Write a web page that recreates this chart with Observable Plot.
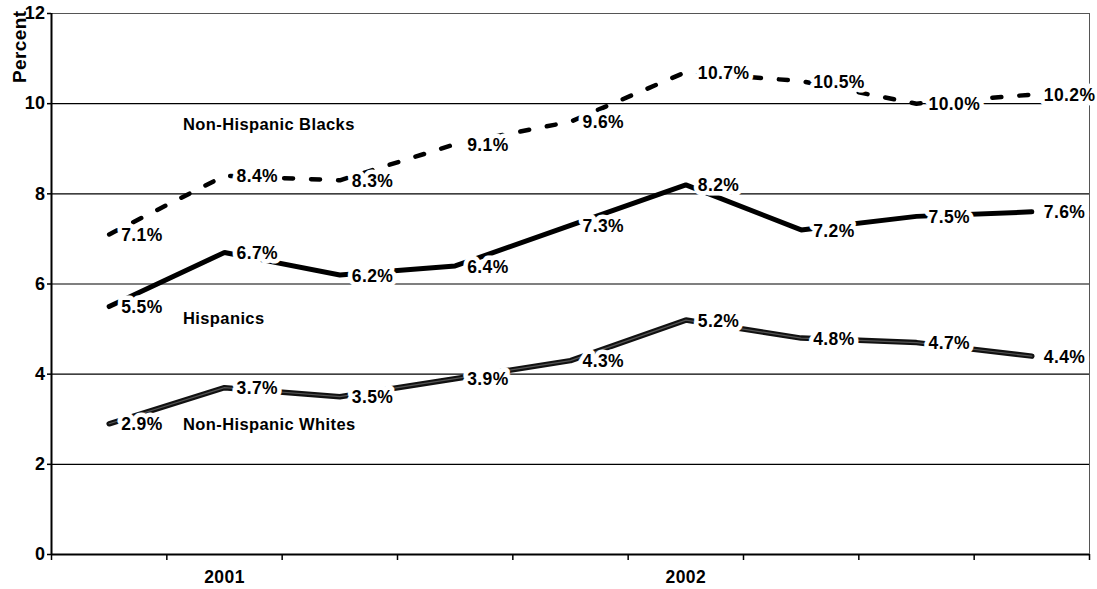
<!DOCTYPE html>
<html><head><meta charset="utf-8">
<script src="https://cdn.jsdelivr.net/npm/d3@7"></script>
<script src="https://cdn.jsdelivr.net/npm/@observablehq/plot@0.6"></script>
<style>body{margin:0;background:#fff} svg{display:block}</style>
</head><body><div id="chart"></div>
<script>
// survey periods (9 consecutive waves)
const periods = [1, 2, 3, 4, 5, 6, 7, 8, 9];
const blacks = [7.1, 8.4, 8.3, 9.1, 9.6, 10.7, 10.5, 10.0, 10.2];
const hispanics = [5.5, 6.7, 6.2, 6.4, 7.3, 8.2, 7.2, 7.5, 7.6];
const whites = [2.9, 3.7, 3.5, 3.9, 4.3, 5.2, 4.8, 4.7, 4.4];
const yTicks = [0, 2, 4, 6, 8, 10, 12];
const yearLabels = ["2001", "2002"];
const yearPeriods = [2, 6];
const seriesNames = ["Non-Hispanic Blacks", "Hispanics", "Non-Hispanic Whites"];
const namePeriods = [1.64, 1.64, 1.64];
const nameValues = [9.54, 5.24, 2.88];

const seriesValues = [blacks, hispanics, whites];
const rows = seriesNames.flatMap((s, k) => periods.map((p, i) => ({series: s, period: p, value: seriesValues[k][i]})));
const bySeries = s => rows.filter(d => d.series === s);
const xPos = d => d.period - 0.5;
const font = "Liberation Sans, Arial, Helvetica, sans-serif";
const fmt = v => d3.format(".1f")(v) + "%";

const chart = Plot.plot({
  width: 1097,
  height: 589,
  marginLeft: 51,
  marginRight: 8,
  marginTop: 13,
  marginBottom: 35,
  style: {fontFamily: font, background: "white"},
  x: {type: "linear", domain: [0, periods.length]},
  y: {domain: [0, 12]},
  marks: [
    Plot.frame({stroke: "#555", strokeWidth: 1}),
    Plot.ruleY(yTicks.filter(v => v > 0 && v < 12), {stroke: "black", strokeWidth: 1.2}),
    Plot.lineY(bySeries(seriesNames[0]), {x: xPos, y: "value", stroke: "black", strokeWidth: 4.5, strokeDasharray: "9,18", strokeLinejoin: "miter"}),
    Plot.lineY(bySeries(seriesNames[1]), {x: xPos, y: "value", stroke: "black", strokeWidth: 5, strokeLinejoin: "miter"}),
    Plot.lineY(bySeries(seriesNames[2]), {x: xPos, y: "value", stroke: "#111", strokeWidth: 5.5, strokeLinejoin: "miter"}),
    Plot.lineY(bySeries(seriesNames[2]), {x: xPos, y: "value", stroke: "#555", strokeWidth: 1.2, strokeLinejoin: "miter"}),
    Plot.text(rows, {x: xPos, y: "value", text: d => fmt(d.value), textAnchor: "start", dx: 12, dy: 1,
      fill: "black", stroke: "white", strokeWidth: 9, fontWeight: "bold", fontSize: 17.5}),
    Plot.text(seriesNames, {x: (d, i) => namePeriods[i] - 0.5, y: (d, i) => nameValues[i], text: d => d, textAnchor: "start",
      fill: "black", stroke: "white", strokeWidth: 6, fontWeight: "bold", fontSize: 16.5}),
    Plot.ruleX([0], {stroke: "black", strokeWidth: 2}),
    Plot.ruleY([0], {stroke: "black", strokeWidth: 2}),
    Plot.axisY({ticks: yTicks, tickSize: 4, tickPadding: 2, tickFormat: d => d, fontSize: 18, fontWeight: "bold", label: null, stroke: "black", strokeWidth: 1.5}),
    Plot.axisX({ticks: d3.range(0, periods.length + 1), tickSize: 6, tickFormat: () => "", label: null, stroke: "black", strokeWidth: 1.5}),
    Plot.text(yearLabels, {x: (d, i) => yearPeriods[i] - 0.5, frameAnchor: "bottom", dy: 28, text: d => d, fontSize: 17.5, fontWeight: "bold", fill: "black"}),
    Plot.text(["Percent"], {frameAnchor: "top-left", text: d => d, rotate: -90, textAnchor: "end", lineAnchor: "middle", dx: -32, dy: -3, fontSize: 19, fontWeight: "bold", fill: "black"})
  ]
});
d3.select(chart).selectAll("text").style("letter-spacing", "0.4px");
document.getElementById("chart").appendChild(chart);
</script>
</body></html>
